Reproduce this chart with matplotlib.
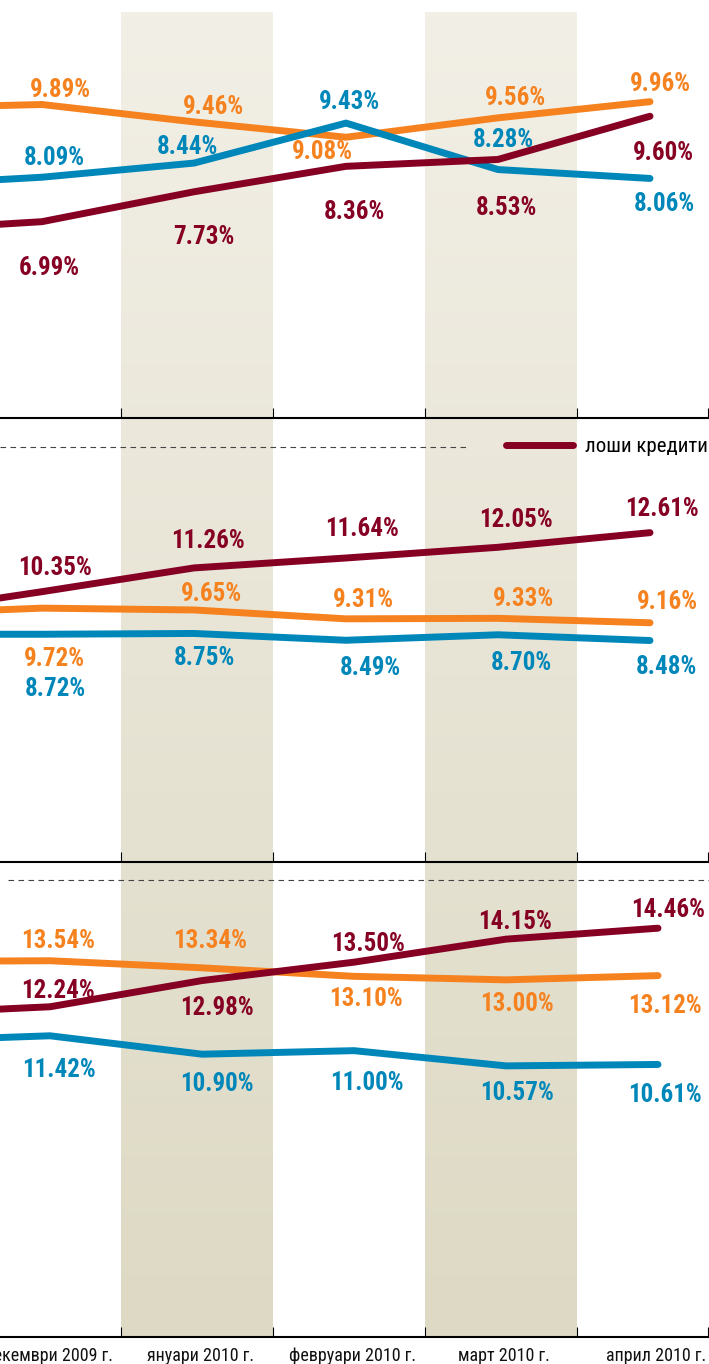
import numpy as np
import matplotlib.pyplot as plt
from matplotlib import font_manager as fm
from matplotlib.colors import LinearSegmentedColormap

# months (first one is cut off at the left edge of the picture)
months = ['ноември 2009 г.', 'декември 2009 г.', 'януари 2010 г.',
          'февруари 2010 г.', 'март 2010 г.', 'април 2010 г.']
shaded_months = ['януари 2010 г.', 'март 2010 г.']
legend_label = 'лоши кредити'

# top panel
top_orange = [9.80, 9.89, 9.46, 9.08, 9.56, 9.96]
top_blue = [7.88, 8.09, 8.44, 9.43, 8.28, 8.06]
top_red = [6.76, 6.99, 7.73, 8.36, 8.53, 9.60]
# middle panel
mid_red = [9.48, 10.35, 11.26, 11.64, 12.05, 12.61]
mid_orange = [9.49, 9.72, 9.65, 9.31, 9.33, 9.16]
mid_blue = [8.72, 8.72, 8.75, 8.49, 8.70, 8.48]
# bottom panel
low_orange = [13.52, 13.54, 13.34, 13.10, 13.00, 13.12]
low_red = [12.04, 12.24, 12.98, 13.50, 14.15, 14.46]
low_blue = [11.27, 11.42, 10.90, 11.00, 10.57, 10.61]

ORANGE = '#F5821F'
BLUE = '#0087BA'
RED = '#860024'

# label offsets in pixels (dx right, dy down) for the visible points
top_orange_off = [(18, -17), (20, -17), (-24, 13), (18, -22), (10, -20)]
top_blue_off = [(12, -21), (-7, -18), (4, -23), (5, -32), (14, 24)]
top_red_off = [(7, 44), (10, 43), (8, 44), (8, 47), (13, 35)]
mid_red_off = [(13, -26), (14, -29), (16, -31), (18, -29), (12, -26)]
mid_orange_off = [(12, 49), (18, -18), (17, -21), (25, -21), (17, -23)]
mid_blue_off = [(13, 53), (10, 23), (24, 26), (23, 26), (16, 24)]
low_red_off = [(8, -18), (15, 25), (14, -20), (9, -19), (10, -20)]
low_orange_off = [(8, -22), (8, -29), (12, 21), (11, 22), (7, 28)]
low_blue_off = [(9, 32), (15, 28), (13, 30), (11, 25), (7, 29)]

available = {f.name for f in fm.fontManager.ttflist}
if 'Roboto Condensed' in available:
    num_family, num_size, txt_size, leg_size = 'Roboto Condensed', 18, 13, 15
else:
    num_family, num_size, txt_size, leg_size = 'Roboto', 16.5, 11.5, 14
plt.rcParams['font.family'] = [num_family, 'DejaVu Sans']

W, H = 709, 1364
step = 152.0          # pixels per month
x0 = 42               # pixel of December
x_left, x_right = -x0 / step, (W - x0) / step
band_shift = 0.02
label_shift = 0.04
x = np.arange(len(months)) - 1


def rows(top, bottom):
    return [0, 1 - bottom / H, 1, (bottom - top) / H]


fig = plt.figure(figsize=(W / 100, H / 100), dpi=100)

# shaded month columns with a soft vertical gradient
bg = fig.add_axes(rows(12, 1337))
band_cmap = LinearSegmentedColormap.from_list('band', ['#DDD9C4', '#F2EFE6'])
grad = np.linspace(0, 1, 256).reshape(-1, 1)
for m in shaded_months:
    i = months.index(m) - 1
    bg.imshow(grad, extent=(i - 0.5 + band_shift, i + 0.5 + band_shift, 0, 1),
              aspect='auto', origin='lower', cmap=band_cmap)
bg.set_xlim(x_left, x_right)
bg.set_ylim(0, 1)
bg.axis('off')

panels = [
    dict(rows=(12, 418), ylim=(2.13, 12.18), shift=0.0,
         series=[(top_orange, ORANGE, top_orange_off),
                 (top_blue, BLUE, top_blue_off),
                 (top_red, RED, top_red_off)]),
    dict(rows=(418, 862), ylim=(0, 17), shift=0.0,
         series=[(mid_orange, ORANGE, mid_orange_off),
                 (mid_blue, BLUE, mid_blue_off),
                 (mid_red, RED, mid_red_off)]),
    dict(rows=(862, 1337), ylim=(2.91, 16.33), shift=8 / step,
         series=[(low_orange, ORANGE, low_orange_off),
                 (low_blue, BLUE, low_blue_off),
                 (low_red, RED, low_red_off)]),
]

axes = []
red_handle = None
for p in panels:
    ax = fig.add_axes(rows(*p['rows']), facecolor='none')
    ax.set_zorder(2)
    for vals, col, offs in p['series']:
        ln, = ax.plot(x + p['shift'], vals, color=col, lw=5,
                      solid_capstyle='round', solid_joinstyle='round')
        if col == RED and red_handle is None:
            red_handle = ln
        for k, (dx, dy) in zip(range(1, len(vals)), offs):
            ax.annotate(f'{vals[k]:.2f}%', (x[k] + p['shift'], vals[k]),
                        xytext=(dx, -dy - 2), textcoords='offset pixels',
                        ha='center', va='center', color=col,
                        fontsize=num_size, fontweight='bold')
    ax.set_yticks([])
    for s in ['top', 'left', 'right']:
        ax.spines[s].set_visible(False)
    ax.spines['bottom'].set_linewidth(1.5)
    ax.spines['bottom'].set_color('black')
    bounds = list(x[:-1] + 0.5 + band_shift) + [x_right - 0.008]
    ax.set_xticks(bounds)
    ax.tick_params(axis='x', which='major', direction='in', length=7,
                   width=0.8, labelbottom=False)
    axes.append(ax)

ax1, ax2, ax3 = axes

# month names under the bottom panel
ax3.set_xticks(x + label_shift, months, minor=True)
ax3.tick_params(axis='x', which='minor', length=0, pad=7,
                labelsize=txt_size, labelcolor='#111111')

for ax, p in zip(axes, panels):
    ax.set_xlim(x_left, x_right)
    ax.set_ylim(*p['ylim'])

# dashed separators and legend
ax2.plot([0, 470 / W], [0.935, 0.935], transform=ax2.transAxes,
         color='#444444', lw=0.8, ls=(0, (5, 4)), clip_on=False)
ax3.plot([8 / W, 1], [0.962, 0.962], transform=ax3.transAxes,
         color='#444444', lw=0.8, ls=(0, (5, 4)), clip_on=False)
ax2.legend([red_handle], [legend_label], loc='center left',
           bbox_to_anchor=(506 / W, 0.935), frameon=False,
           borderpad=0, borderaxespad=0, handlelength=3.2,
           handletextpad=0.6, fontsize=leg_size)

fig.savefig('out.png', dpi=100)
